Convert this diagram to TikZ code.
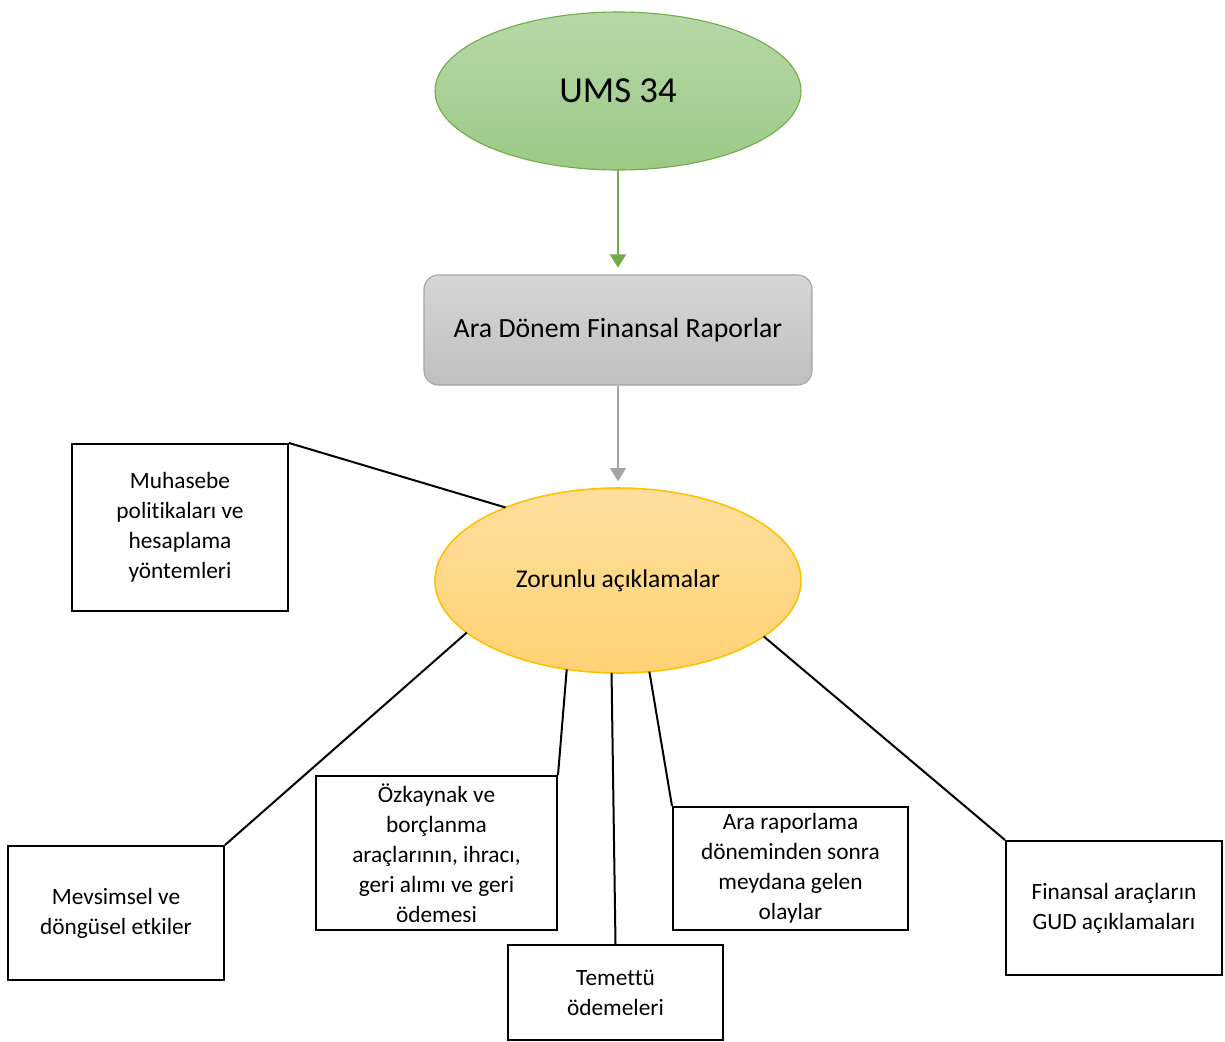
\documentclass[tikz,border=0pt]{standalone}
\usepackage{fontspec}
\setmainfont{Carlito}[Ligatures={NoCommon}]
\usetikzlibrary{arrows.meta,shapes.geometric}
\definecolor{umsInk}{HTML}{000000}
\definecolor{umsGreen}{HTML}{70AD47}
\definecolor{umsGreenHi}{HTML}{B7D8A9}
\definecolor{umsGreenLo}{HTML}{9CC985}
\definecolor{umsGrey}{HTML}{A5A5A5}
\definecolor{umsGreyHi}{HTML}{D6D6D6}
\definecolor{umsGreyLo}{HTML}{BFBFBF}
\definecolor{umsGold}{HTML}{FFC000}
\definecolor{umsGoldHi}{HTML}{FFDE9E}
\definecolor{umsGoldLo}{HTML}{FFD273}
\tikzset{
  oval/.style     ={ellipse,inner sep=0pt,outer sep=0pt,minimum width=164.7pt},
  rootoval/.style ={oval,draw=umsGreen,line width=0.5pt,top color=umsGreenHi,
                    bottom color=umsGreenLo,minimum height=71.1pt,
                    font=\fontsize{16.5}{20}\selectfont},
  hub/.style      ={oval,draw=umsGold,line width=0.7pt,top color=umsGoldHi,
                    bottom color=umsGoldLo,minimum height=83.25pt,
                    font=\fontsize{11.5}{14}\selectfont},
  greybox/.style  ={draw=umsGrey,line width=0.5pt,rounded corners=6.5pt,
                    top color=umsGreyHi,bottom color=umsGreyLo,inner sep=0pt,
                    minimum width=174.6pt,minimum height=49.5pt,
                    font=\fontsize{12.5}{15}\selectfont},
  item/.style     ={draw=umsInk,line width=0.9pt,fill=white,inner sep=0pt,
                    align=center,font=\fontsize{10.5}{13.5}\selectfont},
  feed/.style     ={-{Triangle[length=6pt,width=7pt]},line width=1.3pt,
                    shorten >=3pt},
  spoke/.style    ={umsInk,line width=0.9pt},
}
\begin{document}
\begin{tikzpicture}[x=0.45pt,y=-0.45pt]
\useasboundingbox (0,0) rectangle (1225,1041);
% top of the chart
\node[rootoval] (ums) at (618,91) {UMS 34};
\node[greybox] (ara) at (618,330) {Ara Dönem Finansal Raporlar};
\node[hub] (zor) at (618,580.5) {Zorunlu açıklamalar};
\draw[feed,umsGreen] (ums.south) -- (ara.north);
\draw[feed,umsGrey] (ara.south) -- (zor.north);
% disclosure boxes
\node[item,minimum width=97.2pt,minimum height=75.15pt] (muh) at (180,527.5)
  {Muhasebe\\politikaları ve\\hesaplama\\yöntemleri};
\node[item,minimum width=97.2pt,minimum height=60.3pt] (mev) at (116,913)
  {Mevsimsel ve\\döngüsel etkiler};
\node[item,minimum width=108.45pt,minimum height=69.3pt] (ozk) at (436.5,853)
  {Özkaynak ve\\borçlanma\\araçlarının, ihracı,\\geri alımı ve geri\\ödemesi};
\node[item,minimum width=96.75pt,minimum height=42.75pt] (tem) at (615.5,992.5)
  {Temettü\\ödemeleri};
\node[item,minimum width=105.75pt,minimum height=55.35pt] (olay) at (790.5,868.5)
  {Ara raporlama\\döneminden sonra\\meydana gelen\\olaylar};
\node[item,minimum width=97.2pt,minimum height=60.3pt] (gud) at (1114,908)
  {Finansal araçların\\GUD açıklamaları};
% spokes
\draw[spoke] (muh.north east) -- (zor.147);
\draw[spoke] (mev.north east) -- (zor.199);
\draw[spoke] (ozk.north east) -- (zor.240);
\draw[spoke] (tem.north) -- (zor.266);
\draw[spoke] (olay.north west) -- (zor.289);
\draw[spoke] (gud.north west) -- (zor.339);
\end{tikzpicture}
\end{document}
